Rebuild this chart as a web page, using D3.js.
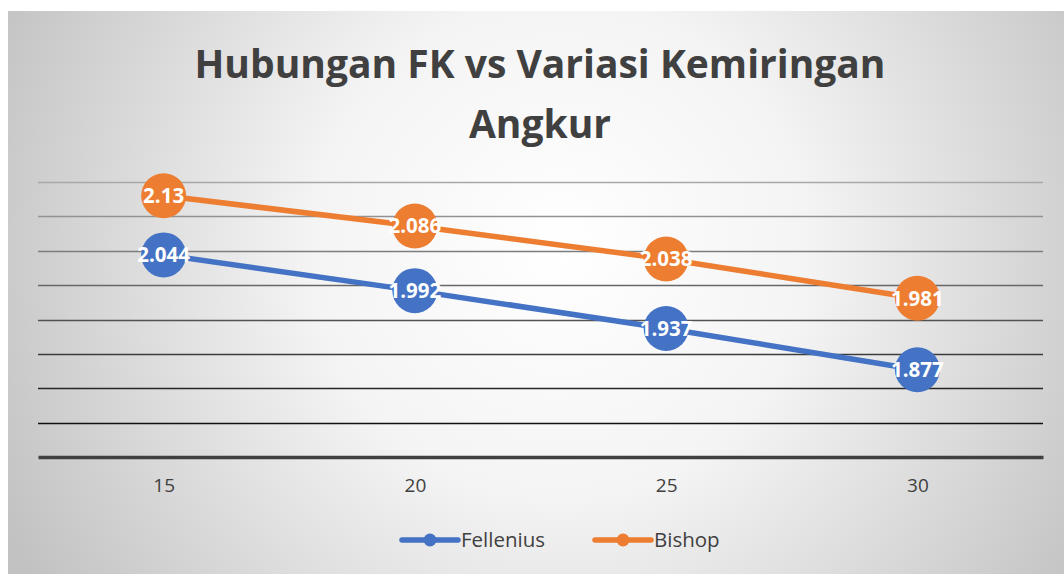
<!DOCTYPE html>
<html>
<head>
<meta charset="utf-8">
<script src="https://cdn.jsdelivr.net/npm/d3@7"></script>
<style>
  body { margin:0; background:#fff; }
  text { font-family: "Open Sans", Lato, sans-serif; }
</style>
</head>
<body>
<svg id="chart"></svg>
<script>
// data
var categories = ["15","20","25","30"];
var fellenius = [2.044, 1.992, 1.937, 1.877];
var bishop = [2.13, 2.086, 2.038, 1.981];
var yTicks = [1.75,1.8,1.85,1.9,1.95,2.0,2.05,2.1,2.15];
var seriesNames = ["Fellenius","Bishop"];
var seriesColors = ["#4472c4","#ed7d31"];

var screen = {width:1064, height:574};
var margins = {top:182, bottom:117, left:38, right:21};
var graph = {
    width:screen.width-margins.left-margins.right,
    height:screen.height-margins.top-margins.bottom
};

var svg = d3.select("#chart")
    .attr("width",screen.width)
    .attr("height",screen.height);

// background gradient
var defs = svg.append("defs");
var grad = defs.append("radialGradient")
    .attr("id","bg")
    .attr("gradientUnits","userSpaceOnUse")
    .attr("cx",560).attr("cy",250).attr("r",620);
grad.append("stop").attr("offset","0%").attr("stop-color","#ffffff");
grad.append("stop").attr("offset","40%").attr("stop-color","#f4f4f4");
grad.append("stop").attr("offset","100%").attr("stop-color","#c2c2c2");

svg.append("rect")
    .attr("x",8).attr("y",11)
    .attr("width",screen.width-8).attr("height",screen.height-11)
    .attr("fill","url(#bg)");

// title
var title = svg.append("g").attr("class","title");
title.append("text")
    .attr("x",540).attr("y",78)
    .attr("text-anchor","middle")
    .attr("font-size",39).attr("font-weight","bold")
    .attr("fill","#404040")
    .text("Hubungan FK vs Variasi Kemiringan");
title.append("text")
    .attr("x",540).attr("y",138)
    .attr("text-anchor","middle")
    .attr("font-size",39).attr("font-weight","bold")
    .attr("fill","#404040")
    .text("Angkur");

var xScale = d3.scalePoint()
    .domain(categories)
    .range([0,graph.width])
    .padding(0.5);

var yScale = d3.scaleLinear()
    .domain([1.75,2.15])
    .range([graph.height,0]);

var g = svg.append("g")
    .classed("graph",true)
    .attr("transform","translate("+margins.left+","+margins.top+")");

// gridlines get darker toward the bottom
var gridColor = d3.scaleLinear()
    .domain([2.15,1.8])
    .range(["#a8a8a8","#111111"]);

g.append("g").selectAll("line")
    .data(yTicks.filter(function(t){ return t > 1.76; }))
    .enter().append("line")
    .attr("x1",0).attr("x2",graph.width)
    .attr("y1",function(t){ return Math.round(yScale(t))+0.5; })
    .attr("y2",function(t){ return Math.round(yScale(t))+0.5; })
    .attr("stroke",function(t){ return gridColor(t); })
    .attr("stroke-width",1.5);

// x axis
var xAxis = d3.axisBottom(xScale).tickSize(0).tickPadding(22);
var ax = g.append("g")
    .attr("transform","translate(0,"+graph.height+")")
    .call(xAxis);
ax.select(".domain").attr("stroke","#404040").attr("stroke-width",3.5);
ax.selectAll("text")
    .attr("font-size",19)
    .attr("fill","#404040")
    .attr("font-family","'Open Sans', sans-serif");

var allSeries = [fellenius, bishop];

var line = d3.line()
    .x(function(d,i){ return xScale(categories[i]); })
    .y(function(d){ return yScale(d); });

allSeries.forEach(function(vals, s)
{
    g.append("path")
        .datum(vals)
        .attr("fill","none")
        .attr("stroke",seriesColors[s])
        .attr("stroke-width",5.5)
        .attr("stroke-linecap","round")
        .attr("d",line);

    g.append("g").selectAll("circle")
        .data(vals)
        .enter().append("circle")
        .attr("cx",function(d,i){ return xScale(categories[i]); })
        .attr("cy",function(d){ return yScale(d); })
        .attr("r",22.5)
        .attr("fill",seriesColors[s]);

    g.append("g").selectAll("text")
        .data(vals)
        .enter().append("text")
        .attr("x",function(d,i){ return xScale(categories[i]); })
        .attr("y",function(d){ return yScale(d); })
        .attr("dy","0.36em")
        .attr("text-anchor","middle")
        .attr("font-size",20.5)
        .attr("font-weight","bold")
        .attr("fill","#ffffff")
        .text(function(d){ return d; });
});

// legend
var legendX = [400, 593];
var legend = svg.append("g").attr("class","legend");
seriesNames.forEach(function(name, s)
{
    var lg = legend.append("g")
        .attr("transform","translate("+legendX[s]+",540)");
    lg.append("line")
        .attr("x1",2).attr("x2",58)
        .attr("stroke",seriesColors[s])
        .attr("stroke-width",5.5)
        .attr("stroke-linecap","round");
    lg.append("circle")
        .attr("cx",30).attr("r",6.5)
        .attr("fill",seriesColors[s]);
    lg.append("text")
        .attr("x",61).attr("dy","0.35em")
        .attr("font-size",20.5)
        .attr("fill","#404040")
        .text(name);
});
</script>
</body>
</html>
